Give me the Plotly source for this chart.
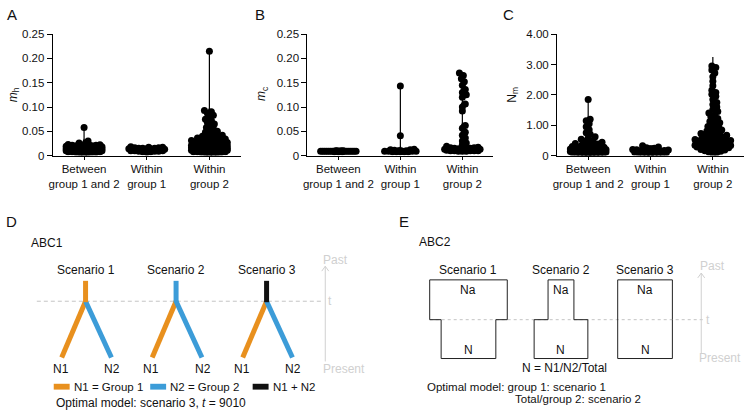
import math
import plotly.graph_objects as go

W, H = 745, 416

# ---------------- data ----------------
categories = ["Between<br>group 1 and 2", "Within<br>group 1", "Within<br>group 2"]

mh_between = [0.058, 0.030, 0.026, 0.024, 0.023, 0.022, 0.022, 0.021, 0.021, 0.020, 0.020, 0.020,
              0.019, 0.019, 0.019, 0.018, 0.018, 0.018, 0.018, 0.017, 0.017, 0.017, 0.017, 0.016,
              0.016, 0.016, 0.016, 0.016, 0.015, 0.015, 0.015, 0.015, 0.015, 0.014, 0.014, 0.014,
              0.014, 0.014, 0.013, 0.013, 0.013, 0.013, 0.013, 0.012, 0.012, 0.012, 0.012, 0.012,
              0.011, 0.011, 0.011, 0.011, 0.011, 0.010, 0.010, 0.010, 0.010, 0.010, 0.009, 0.009,
              0.009, 0.009, 0.008, 0.008, 0.008, 0.008, 0.007, 0.007, 0.007, 0.006, 0.006, 0.005]
mh_within1 = [0.018, 0.017, 0.017, 0.016, 0.016, 0.015, 0.015, 0.015, 0.014, 0.014, 0.014, 0.013,
              0.013, 0.013, 0.012, 0.012, 0.012, 0.011, 0.011, 0.011, 0.010, 0.010, 0.010, 0.009,
              0.009, 0.009, 0.008, 0.008, 0.007]
mh_within2 = [0.215, 0.093, 0.090, 0.087, 0.083, 0.080, 0.075, 0.072, 0.068, 0.065, 0.062, 0.058,
              0.055, 0.052, 0.050, 0.048, 0.046, 0.044, 0.042, 0.040, 0.039, 0.038, 0.037, 0.036,
              0.035, 0.034, 0.033, 0.032, 0.031, 0.030, 0.030, 0.029, 0.028, 0.028, 0.027, 0.026,
              0.026, 0.025, 0.025, 0.024, 0.024, 0.023, 0.023, 0.022, 0.022, 0.022, 0.021, 0.021,
              0.021, 0.020, 0.020, 0.020, 0.020, 0.019, 0.019, 0.019, 0.019, 0.018, 0.018, 0.018,
              0.018, 0.017, 0.017, 0.017, 0.017, 0.016, 0.016, 0.016, 0.016, 0.016, 0.015, 0.015,
              0.015, 0.015, 0.015, 0.014, 0.014, 0.014, 0.014, 0.014, 0.013, 0.013, 0.013, 0.013,
              0.012, 0.012, 0.012, 0.012, 0.011, 0.011, 0.011, 0.011, 0.010, 0.010, 0.010, 0.010,
              0.009, 0.009, 0.009, 0.008, 0.008, 0.008, 0.007, 0.007, 0.006, 0.006, 0.005, 0.005]

mc_between = [0.010, 0.010, 0.010, 0.010, 0.009, 0.009, 0.009, 0.009, 0.009, 0.009, 0.009, 0.009,
              0.009, 0.009, 0.009, 0.009, 0.009, 0.009, 0.009, 0.009, 0.009, 0.008, 0.008, 0.008]
mc_within1 = [0.143, 0.041, 0.013, 0.012, 0.012, 0.011, 0.010, 0.010, 0.009, 0.009, 0.009, 0.009,
              0.009, 0.008, 0.008, 0.008, 0.008, 0.008]
mc_within2 = [0.170, 0.165, 0.158, 0.152, 0.145, 0.136, 0.130, 0.125, 0.120, 0.106, 0.100, 0.092,
              0.062, 0.056, 0.048, 0.042, 0.036, 0.030, 0.026, 0.022, 0.019, 0.017, 0.016, 0.016,
              0.015, 0.015, 0.014, 0.014, 0.014, 0.013, 0.013, 0.013, 0.012, 0.012, 0.012, 0.012,
              0.011, 0.011, 0.011, 0.011, 0.010, 0.010, 0.010, 0.010, 0.010, 0.009, 0.009, 0.009]

nm_between = [1.85, 1.20, 1.15, 1.05, 0.95, 0.85, 0.75, 0.70, 0.62, 0.58, 0.54, 0.50, 0.47, 0.44,
              0.42, 0.40, 0.38, 0.36, 0.34, 0.32, 0.30, 0.29, 0.28, 0.27, 0.26, 0.25, 0.24, 0.23,
              0.22, 0.22, 0.21, 0.21, 0.20, 0.20, 0.19, 0.19, 0.18, 0.18, 0.17, 0.17, 0.16, 0.16,
              0.15, 0.15, 0.15, 0.14, 0.14, 0.14, 0.13, 0.13, 0.13, 0.12, 0.12, 0.12, 0.11, 0.11,
              0.11, 0.10, 0.10, 0.10, 0.09, 0.09, 0.08, 0.08, 0.07, 0.07, 0.06, 0.05]
nm_within1 = [0.32, 0.28, 0.26, 0.24, 0.22, 0.20, 0.19, 0.18, 0.17, 0.16, 0.15, 0.14, 0.13, 0.12,
              0.12, 0.11, 0.10, 0.10, 0.09, 0.08, 0.08, 0.07, 0.06, 0.05]
nm_within2 = [2.95, 2.90, 2.82, 2.72, 2.60, 2.45, 2.30, 2.15, 2.08, 2.02, 1.95, 1.85, 1.75, 1.68,
              1.60, 1.52, 1.45, 1.40, 1.34, 1.28, 1.22, 1.17, 1.12, 1.08, 1.04, 1.00, 0.96, 0.93,
              0.90, 0.87, 0.84, 0.81, 0.78, 0.76, 0.73, 0.71, 0.69, 0.67, 0.65, 0.63, 0.61, 0.59,
              0.57, 0.55, 0.53, 0.52, 0.50, 0.49, 0.48, 0.47, 0.46, 0.45, 0.44, 0.43, 0.42, 0.41,
              0.40, 0.40, 0.39, 0.39, 0.38, 0.38, 0.37, 0.37, 0.36, 0.36, 0.35, 0.35, 0.34, 0.34,
              0.33, 0.33, 0.32, 0.32, 0.31, 0.30, 0.29, 0.28, 0.27, 0.26, 0.25, 0.24, 0.22, 0.20,
              0.18, 0.16, 0.14, 0.12, 0.10, 0.08]

ticks_m = [0, 0.05, 0.10, 0.15, 0.20, 0.25]
ticks_m_text = ["0", "0.05", "0.10", "0.15", "0.20", "0.25"]
ticks_n = [0, 1, 2, 3, 4]
ticks_n_text = ["0", "1.00", "2.00", "3.00", "4.00"]

scenarios = ["Scenario 1", "Scenario 2", "Scenario 3"]
abc1_legend = ["N1 = Group 1", "N2 = Group 2", "N1 + N2"]
abc2_na_width = [78, 26, 55]   # relative widths of ancestral population boxes
abc2_n_width = [55, 54, 55]    # relative widths of present population boxes

ORANGE = "#E8901E"
BLUE = "#3C9CD8"
BLACK = "#111111"
LIGHT = "#d0d0d0"
FONT = "Liberation Sans, Arial, sans-serif"

# ---------------- helpers ----------------
fig = go.Figure()


def px_x(p):
    return p / W


def px_y(p):
    return 1 - p / H


def beeswarm(vals, ky, kx=63.0, dmin=4.0, maxw=18.0, step=1.0):
    """Deterministic beeswarm offsets (in category units) for a column of dots."""
    cands = [0.0]
    k = 1
    while k * step <= maxw:
        cands += [k * step, -k * step]
        k += 1
    placed = []
    res = [0.0] * len(vals)
    for i in sorted(range(len(vals)), key=lambda j: vals[j]):
        y = vals[i] * ky
        near = [(px, py) for px, py in placed if abs(py - y) < dmin]
        best, bestd = 0.0, -1.0
        for c in cands:
            md = min((math.hypot(c - px, y - py) for px, py in near), default=1e9)
            if md >= dmin:
                best = c
                break
            if md > bestd:
                bestd, best = md, c
        placed.append((best, y))
        res[i] = best / kx
    return res


panels = [
    dict(ax="", letter="A", xl=49, xr=238, data=[mh_between, mh_within1, mh_within2],
         rng=[0, 0.25], tv=ticks_m, tt=ticks_m_text, title="<i>m</i><sub>h</sub>",
         tx=10, lx=8, bw=0.002),
    dict(ax="2", letter="B", xl=305, xr=492, data=[mc_between, mc_within1, mc_within2],
         rng=[0, 0.25], tv=ticks_m, tt=ticks_m_text, title="<i>m</i><sub>c</sub>",
         tx=260, lx=257, bw=0.002),
    dict(ax="3", letter="C", xl=556, xr=744, data=[nm_between, nm_within1, nm_within2],
         rng=[0, 4], tv=ticks_n, tt=ticks_n_text, title="N<sub>m</sub>",
         tx=512, lx=507, bw=0.035),
]

y_top, y_bot = 29, 154
annotations = []
for p in panels:
    xa = "x" + p["ax"]
    ya = "y" + p["ax"]
    ky = (y_bot - y_top) / (p["rng"][1] - p["rng"][0])
    for i, vals in enumerate(p["data"]):
        if p["letter"] == "C" and i == 2:
            kw = dict(spanmode="manual", span=[min(vals), 3.25])
        else:
            kw = dict(spanmode="hard")
        fig.add_trace(go.Violin(
            x0=i, y=vals, xaxis=xa, yaxis=ya, points=False, bandwidth=p["bw"],
            width=0.5, scalemode="width", fillcolor="white",
            line=dict(color="black", width=1.2),
            box_visible=False, meanline_visible=False, showlegend=False,
            hoverinfo="skip", **kw))
        offs = beeswarm(vals, ky)
        fig.add_trace(go.Scatter(
            x=[i + o for o in offs], y=vals, xaxis=xa, yaxis=ya, mode="markers",
            marker=dict(color="black", size=7, line=dict(width=0)),
            showlegend=False, hoverinfo="y"))
    xkey = "xaxis" + p["ax"]
    ykey = "yaxis" + p["ax"]
    fig.update_layout(**{
        xkey: dict(domain=[px_x(p["xl"]), px_x(p["xr"])], range=[-0.5, 2.5], anchor=ya,
                   tickvals=[0, 1, 2], ticktext=categories, showline=True, linecolor="black",
                   linewidth=1, ticks="outside", ticklen=3, tickcolor="black", showgrid=False,
                   zeroline=False, tickfont=dict(size=11.5, color="#111", family=FONT)),
        ykey: dict(domain=[px_y(y_bot), px_y(y_top)], range=p["rng"], anchor=xa,
                   tickvals=p["tv"], ticktext=p["tt"], showline=True, linecolor="black",
                   linewidth=1, ticks="outside", ticklen=5, tickcolor="black", showgrid=False,
                   zeroline=False, tickfont=dict(size=11.5, color="#111", family=FONT)),
    })
    annotations.append(dict(x=px_x(p["tx"]), y=px_y(91), xref="paper", yref="paper",
                            text=p["title"], textangle=-90, showarrow=False,
                            font=dict(size=12, color="#111", family=FONT),
                            xanchor="center", yanchor="middle"))
    annotations.append(dict(x=px_x(p["lx"]), y=px_y(9), xref="paper", yref="paper",
                            text=p["letter"], showarrow=False,
                            font=dict(size=15, color="#111", family=FONT),
                            xanchor="center", yanchor="middle"))

# ---------------- diagram axis (pixel-like coordinates) ----------------
XD, YD = "x4", "y4"
fig.update_layout(
    xaxis4=dict(domain=[0, 1], range=[0, W], visible=False, fixedrange=True),
    yaxis4=dict(domain=[0, 0.5], range=[H, H / 2], visible=False, fixedrange=True),
)


def txt(x, y, s, size=12, color="#111", anchor="center"):
    annotations.append(dict(x=x, y=y, xref=XD, yref=YD, text=s, showarrow=False,
                            xanchor=anchor, yanchor="middle",
                            font=dict(size=size, color=color, family=FONT)))


def line(xs, ys, color, width, dash="solid"):
    fig.add_trace(go.Scatter(x=xs, y=ys, xaxis=XD, yaxis=YD, mode="lines",
                             line=dict(color=color, width=width, dash=dash),
                             hoverinfo="skip", showlegend=False))


def up_arrow(x, y_from, y_to):
    line([x, x], [y_from, y_to], LIGHT, 1)
    line([x - 3.5, x, x + 3.5], [y_to + 5, y_to, y_to + 5], LIGHT, 1)


# Panel D
txt(8, 222, "D", size=15)
txt(25, 244, "ABC1", anchor="left")
line([33, 320], [304, 304], "#c4c4c4", 1, dash="4px,3px")
stem_cols = [ORANGE, BLUE, BLACK]
for i, s in enumerate(scenarios):
    cx = 82 + i * 91
    txt(cx, 272, s)
    line([cx, cx - 24], [304, 362], ORANGE, 5)
    line([cx, cx + 26], [304, 362], BLUE, 5)
    line([cx, cx], [283, 305], stem_cols[i], 5)
    txt(cx - 25, 374, "N1")
    txt(cx + 27, 374, "N2")
up_arrow(323, 366, 268)
txt(333, 262, "Past", color=LIGHT)
txt(328, 304, "t", color=LIGHT)
txt(342, 374, "Present", color=LIGHT)
leg_x = [50, 147, 250]
leg_cols = [ORANGE, BLUE, BLACK]
for i, lab in enumerate(abc1_legend):
    fig.add_shape(type="rect", xref=XD, yref=YD, x0=leg_x[i], x1=leg_x[i] + 16,
                  y0=389, y1=395, fillcolor=leg_cols[i], line=dict(width=0))
    txt(leg_x[i] + 18, 392, lab, size=11.5, anchor="left")
txt(50, 409, "Optimal model: scenario 3, <i>t</i> = 9010", anchor="left")

# Panel E
txt(402, 222, "E", size=15)
txt(415, 243, "ABC2", anchor="left")
line([428, 703], [323, 323], "#c4c4c4", 1, dash="dot")
e_centers = [467, 560, 644.5]
top_y, mid_y, bot_y = 282, 323, 363
for i, s in enumerate(scenarios):
    cx = e_centers[i]
    a = abc2_na_width[i] / 2
    b = abc2_n_width[i] / 2
    xs = [cx - a, cx + a, cx + a, cx + b, cx + b, cx - b, cx - b, cx - a, cx - a]
    ys = [top_y, top_y, mid_y, mid_y, bot_y, bot_y, mid_y, mid_y, top_y]
    line(xs, ys, "#222", 1)
    txt(cx, 272, s)
    txt(cx, 292, "Na")
    txt(cx, 354, "N")
up_arrow(701, 358, 275)
txt(712, 268, "Past", color=LIGHT)
txt(708, 323, "t", color=LIGHT)
txt(720, 362, "Present", color=LIGHT)
txt(564, 373, "N = N1/N2/Total")
txt(423, 392, "Optimal model: group 1: scenario 1", size=11.5, anchor="left")
txt(512, 405, "Total/group 2: scenario 2", size=11.5, anchor="left")

fig.update_layout(
    width=W, height=H, margin=dict(l=0, r=0, t=0, b=0),
    paper_bgcolor="white", plot_bgcolor="rgba(0,0,0,0)",
    violinmode="overlay", showlegend=False,
    font=dict(family=FONT, color="#111"),
    annotations=annotations,
)

fig.write_html("out.html", config={"displayModeBar": False},
               post_script="document.body.style.margin='0px';")
